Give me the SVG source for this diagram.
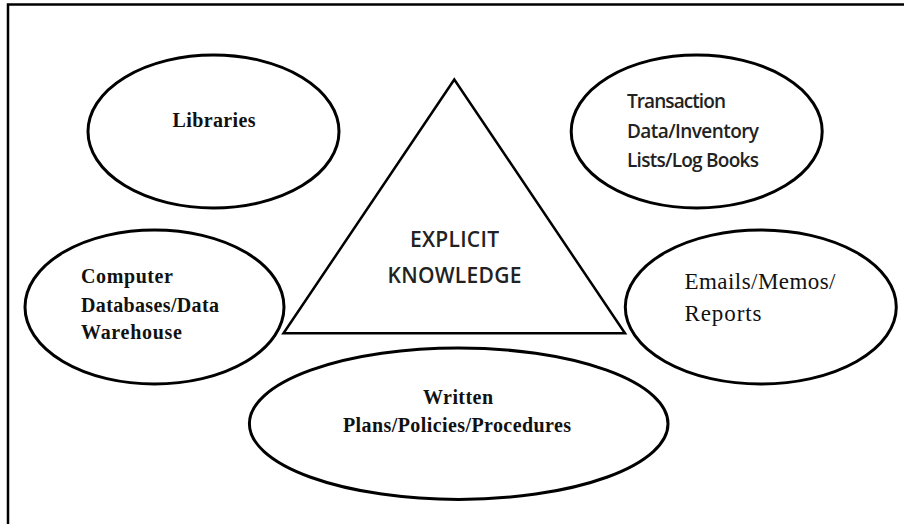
<svg xmlns="http://www.w3.org/2000/svg" width="904" height="524" viewBox="0 0 904 524">
<style>
.shape{fill:#fff;stroke:#000;stroke-width:3}
.tri{fill:#fff;stroke:#000;stroke-width:2.5;stroke-linejoin:miter}
.serifb{font-family:"Liberation Serif","Times New Roman",serif;font-weight:bold;font-size:20px;fill:#111}
.serif{font-family:"Liberation Serif","Times New Roman",serif;font-size:23px;fill:#111}
.sans{font-family:"Open Sans","Noto Sans","Liberation Sans",sans-serif;font-size:19px;font-weight:600;fill:#222}
.sansl{font-family:"Open Sans","Noto Sans","Liberation Sans",sans-serif;font-size:21px;font-weight:600;fill:#222}
</style>
<rect x="0" y="0" width="904" height="524" fill="#fff"/>
<g id="frame"><rect x="8" y="4.5" width="1000" height="1000" fill="none" stroke="#000" stroke-width="2.5"/></g>
<g id="connectors"></g>
<g id="explicit-knowledge">
<polygon class="tri" points="454.3,79.5 283.5,333.3 625,333.3"/>
<text class="sansl" x="454.5" y="247" text-anchor="middle" textLength="89">EXPLICIT</text>
<text class="sansl" x="454.5" y="282.5" text-anchor="middle" textLength="134">KNOWLEDGE</text>
</g>
<g id="libraries">
<ellipse class="shape" cx="213.5" cy="131.5" rx="125.5" ry="76.5"/>
<text class="serifb" x="214" y="127" text-anchor="middle" textLength="83">Libraries</text>
</g>
<g id="transaction">
<ellipse class="shape" cx="696.7" cy="131.5" rx="125.5" ry="76.5"/>
<text class="sans" x="627" y="108" textLength="99">Transaction</text>
<text class="sans" x="627" y="138" textLength="132">Data/Inventory</text>
<text class="sans" x="627" y="167" textLength="132">Lists/Log Books</text>
</g>
<g id="computer">
<ellipse class="shape" cx="154.5" cy="307" rx="129.5" ry="77"/>
<text class="serifb" x="81" y="282.5" textLength="92">Computer</text>
<text class="serifb" x="81" y="312" textLength="138">Databases/Data</text>
<text class="serifb" x="81" y="339" textLength="101">Warehouse</text>
</g>
<g id="emails">
<ellipse class="shape" cx="760.8" cy="307" rx="135.5" ry="77"/>
<text class="serif" x="684.5" y="288.5" textLength="151">Emails/Memos/</text>
<text class="serif" x="684.5" y="320.5" textLength="77">Reports</text>
</g>
<g id="written">
<ellipse class="shape" cx="458.7" cy="423.7" rx="209.3" ry="75.7"/>
<text class="serifb" x="458" y="404" text-anchor="middle" textLength="70">Written</text>
<text class="serifb" x="457" y="431.5" text-anchor="middle" textLength="228">Plans/Policies/Procedures</text>
</g>
</svg>
